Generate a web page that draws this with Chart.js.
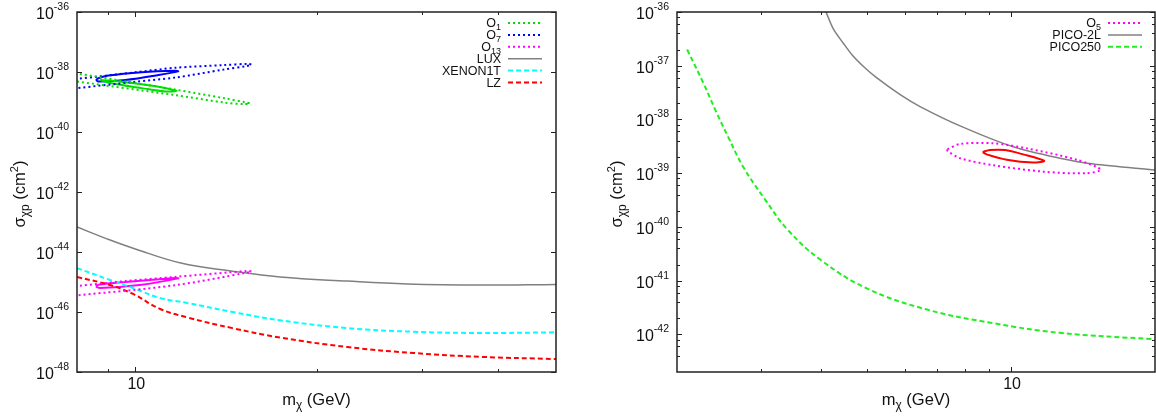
<!DOCTYPE html>
<html lang="en">
<head>
<meta charset="UTF-8">
<title>sigma_chi_p vs m_chi</title>
<script src="https://cdn.jsdelivr.net/npm/chart.js"></script>
<style>
  html, body { margin: 0; padding: 0; background: #fff; }
  #wrap { position: relative; width: 1156px; height: 417px; }
  .panel { position: absolute; top: 0; width: 578px; height: 417px; }
</style>
</head>
<body>
<div id="wrap">
  <div class="panel" style="left:0"><canvas id="leftChart"></canvas></div>
  <div class="panel" style="left:578px"><canvas id="rightChart"></canvas></div>
</div>

<script>
// ---- left panel data (m in GeV, sigma in cm^2) ----
const lux = [[8,6.8e-44],[9.08,2.5e-44],[10,1.26e-44],[11.9,4.3e-45],[14.5,2.3e-45],[17.4,1.47e-45],[22.5,1.07e-45],[28.3,8.6e-46],[37.5,7.9e-46],[50,8.3e-46]];
const xenon1t = [[8,2.9e-45],[9.08,1.17e-45],[9.91,6.3e-46],[11.0,2.9e-46],[12.2,2.0e-46],[14.5,1.0e-46],[17.4,5.3e-47],[22.5,2.9e-47],[29,2.2e-47],[37.5,2.0e-47],[50,2.1e-47]];
const lz = [[8,1.47e-45],[9.08,7.9e-46],[9.91,4.0e-46],[11.0,1.26e-46],[12.2,6.6e-47],[14.5,2.9e-47],[17.4,1.41e-47],[22.5,6.8e-48],[29,4.3e-48],[37.5,3.2e-48],[50,2.7e-48]];

const o1Outer = [[7.5,1.07e-38],[8,8.9e-39],[11.64,2.6e-39],[14.1,1.32e-39],[15.35,9.5e-40],[15.5,8.9e-40],[15.2,8.5e-40],[14.1,9.5e-40],[11.64,1.7e-39],[8,4.8e-39],[7.5,5.8e-39]];
const o1Inner = [[8.74,5.4e-39],[9.08,5.2e-39],[10.25,3.9e-39],[11.2,2.95e-39],[11.72,2.35e-39],[11.2,2.24e-39],[10.25,2.9e-39],[9.08,4.3e-39],[8.74,5.4e-39]];
const o7Outer = [[7.5,5.4e-39],[8,5.9e-39],[10,9.8e-39],[11.64,1.38e-38],[14,1.7e-38],[15.4,1.86e-38],[15.6,1.74e-38],[15.3,1.58e-38],[14,1.2e-38],[11.64,6.5e-39],[10,4.7e-39],[8,2.9e-39],[7.5,2.5e-39]];
const o7Inner = [[8.6,5.4e-39],[8.68,6.2e-39],[9.02,7.6e-39],[10.25,9.8e-39],[11.65,1.1e-38],[11.78,1.05e-38],[10.93,7.9e-39],[9.62,5.4e-39],[8.68,4.8e-39],[8.6,5.4e-39]];
const o13Outer = [[7.5,6.3e-46],[8.04,7.4e-46],[9.62,1.07e-45],[11.64,1.48e-45],[15.4,2.34e-45],[15.6,2.24e-45],[15.3,2.04e-45],[11.64,7.8e-46],[8.04,3.6e-46],[7.5,3.1e-46]];
const o13Inner = [[8.6,7.1e-46],[8.68,8.1e-46],[9.62,1.0e-45],[11.64,1.35e-45],[11.78,1.32e-45],[10.25,8.1e-46],[8.74,6.3e-46],[8.6,7.1e-46]];

// ---- right panel data ----
const pico2l = [[4.1,1.0e-36],[4.25,4.8e-37],[4.46,2.6e-37],[4.66,1.55e-37],[4.91,9.7e-38],[5.23,6.0e-38],[5.86,2.9e-38],[6.45,1.74e-38],[7.82,7.6e-39],[10.1,3.1e-39],[12.65,1.9e-39],[14.86,1.48e-39],[20,1.15e-39]];
const pico250 = [[2.1,2.0e-37],[2.27,4.8e-38],[2.41,1.45e-38],[2.56,4.7e-39],[2.75,1.32e-39],[3.06,3.2e-40],[3.40,9.1e-41],[3.98,2.5e-41],[4.99,7.2e-42],[6.67,2.9e-42],[9.17,1.62e-42],[12.66,1.07e-42],[20,8.1e-43]];
const o5Outer = [[7.36,2.8e-39],[7.82,3.5e-39],[9.17,3.6e-39],[10.78,2.9e-39],[13.72,1.78e-39],[15.4,1.17e-39],[14.4,1.0e-39],[11.68,1.07e-39],[9.18,1.41e-39],[7.82,1.9e-39],[7.36,2.6e-39],[7.36,2.8e-39]];
const o5Inner = [[8.72,2.48e-39],[9.03,2.7e-39],[9.71,2.7e-39],[10.6,2.24e-39],[11.72,1.7e-39],[11.13,1.58e-39],[9.79,1.78e-39],[8.89,2.24e-39],[8.72,2.48e-39]];

// ---- axes / ticks ----
const leftYExp = [-36, -38, -40, -42, -44, -46, -48];
const leftXTicks = [9, 10, 20, 30, 40];
const rightYExp = [-36, -37, -38, -39, -40, -41, -42];
const rightYMinor = [2, 4, 6, 8];
const rightXTicks = [3, 4, 5, 6, 7, 8, 9, 10];
const xLabelled = [10];

const FONT = '"Liberation Sans", Arial, Helvetica, sans-serif';
const DOT = [2, 3], DASH = [5, 3];

function ds(pairs, color, dash, width, label, tension) {
  return {
    label: label,
    data: pairs.map(p => ({ x: p[0], y: p[1] })),
    showLine: true,
    borderColor: color,
    borderWidth: width,
    borderDash: dash,
    pointRadius: 0,
    fill: false,
    tension: tension === undefined ? 0.3 : tension
  };
}

function drawRich(ctx, parts, x, y, align) {
  let w = 0;
  parts.forEach(p => { ctx.font = p[1] + 'px ' + FONT; w += ctx.measureText(p[0]).width; });
  let cx = align === 'right' ? x - w : align === 'center' ? x - w / 2 : x;
  ctx.textAlign = 'left';
  parts.forEach(p => {
    ctx.font = p[1] + 'px ' + FONT;
    ctx.fillText(p[0], cx, y + (p[2] || 0));
    cx += ctx.measureText(p[0]).width;
  });
}

function legendParts(label) {
  const m = /^O(\d+)$/.exec(label);
  if (m) return [['O', 12.5, 0], [m[1], 9, 3]];
  return [[label, 12.5, 0]];
}

const framePlugin = {
  id: 'frame',
  afterDraw(chart, args, o) {
    const ctx = chart.ctx, a = chart.chartArea;
    const xs = chart.scales.x, ys = chart.scales.y;
    const seg = (x0, y0, x1, y1) => { ctx.beginPath(); ctx.moveTo(x0, y0); ctx.lineTo(x1, y1); ctx.stroke(); };
    ctx.save();
    ctx.strokeStyle = '#222';
    ctx.fillStyle = '#111';
    ctx.lineWidth = 1;
    ctx.setLineDash([]);

    // x ticks (inward, top and bottom)
    o.xTicks.forEach(v => {
      const px = Math.round(xs.getPixelForValue(v)) + 0.5;
      const len = xLabelled.includes(v) ? 5 : 3;
      seg(px, a.bottom, px, a.bottom - len);
      seg(px, a.top, px, a.top + len);
    });
    // y ticks
    o.yExp.forEach(e => {
      const py = Math.round(ys.getPixelForValue(Math.pow(10, e))) + 0.5;
      seg(a.left, py, a.left + 5, py);
      seg(a.right, py, a.right - 5, py);
    });
    if (o.yMinor) {
      o.yExp.forEach(e => {
        o.yMinor.forEach(m => {
          const v = m * Math.pow(10, e - 1);
          if (v <= ys.min || v >= ys.max) return;
          const py = Math.round(ys.getPixelForValue(v)) + 0.5;
          seg(a.left, py, a.left + 3, py);
          seg(a.right, py, a.right - 3, py);
        });
      });
    }
    // frame
    ctx.lineWidth = 1.5;
    ctx.strokeRect(a.left, a.top, a.right - a.left, a.bottom - a.top);

    // y tick labels
    o.yExp.forEach(e => {
      const py = ys.getPixelForValue(Math.pow(10, e));
      drawRich(ctx, [['10', 16, 0], [String(e), 10.5, -9]], a.left - 8, py + 7, 'right');
    });
    // x tick labels
    xLabelled.forEach(v => {
      const px = xs.getPixelForValue(v);
      drawRich(ctx, [[String(v), 16, 0]], px + 1, a.bottom + 17, 'center');
    });

    // axis titles
    drawRich(ctx, [['m', 16.5, 0], ['\u03c7', 12, 4], [' (GeV)', 16.5, 0]], (a.left + a.right) / 2, 405, 'center');
    ctx.save();
    ctx.translate(o.yTitleX, 194);
    ctx.rotate(-Math.PI / 2);
    drawRich(ctx, [['\u03c3', 16.5, 0], ['\u03c7p', 12, 4], [' (cm', 16.5, 0], ['2', 11, -7], [')', 16.5, 0]], 0, 5, 'center');
    ctx.restore();

    // legend
    let row = 0;
    chart.data.datasets.forEach(d => {
      if (!d.label) return;
      const y = 23 + row * 11.9;
      ctx.fillStyle = '#111';
      drawRich(ctx, legendParts(d.label), o.legendX, y + 4, 'right');
      ctx.strokeStyle = d.borderColor;
      ctx.lineWidth = d.borderWidth;
      ctx.setLineDash(d.borderDash || []);
      seg(o.legendX + 7, y, o.legendX + 41, y);
      ctx.setLineDash([]);
      row++;
    });
    ctx.restore();
  }
};

function makePanel(id, datasets, xr, yr, pad, frame) {
  return new Chart(document.getElementById(id), {
    type: 'scatter',
    data: { datasets: datasets },
    options: {
      responsive: true,
      maintainAspectRatio: false,
      animation: false,
      events: [],
      layout: { padding: pad },
      plugins: { legend: { display: false }, tooltip: { enabled: false }, frame: frame },
      scales: {
        x: { type: 'logarithmic', min: xr[0], max: xr[1], display: false },
        y: { type: 'logarithmic', min: yr[0], max: yr[1], display: false }
      }
    },
    plugins: [framePlugin]
  });
}

const green = '#00dd00', blue = '#0000ff', magenta = '#ff00ff', gray = '#808080', cyan = '#00ffff', red = '#ff0000';

makePanel('leftChart', [
  ds(o1Outer, green, DOT, 2, 'O1'),
  ds(o7Outer, blue, DOT, 2, 'O7'),
  ds(o13Outer, magenta, DOT, 2, 'O13'),
  ds(lux, gray, [], 1.5, 'LUX', 0.4),
  ds(xenon1t, cyan, DASH, 2, 'XENON1T', 0.4),
  ds(lz, red, DASH, 2, 'LZ', 0.4),
  ds(o1Inner, green, [], 2),
  ds(o7Inner, blue, [], 2),
  ds(o13Inner, magenta, [], 2)
], [8, 50], [1e-48, 1e-36], { left: 77, right: 22, top: 12, bottom: 45 },
  { xTicks: leftXTicks, yExp: leftYExp, yMinor: null, legendX: 501, yTitleX: 20 });

makePanel('rightChart', [
  ds(o5Outer, magenta, DOT, 2, 'O5'),
  ds(pico2l, gray, [], 1.5, 'PICO-2L', 0.3),
  ds(pico250, '#22ee22', DASH, 2, 'PICO250', 0.4),
  ds(o5Inner, red, [], 2)
], [2, 20], [2e-43, 1e-36], { left: 99, right: 1, top: 12, bottom: 45 },
  { xTicks: rightXTicks, yExp: rightYExp, yMinor: rightYMinor, legendX: 523, yTitleX: 39 });
</script>
</body>
</html>
